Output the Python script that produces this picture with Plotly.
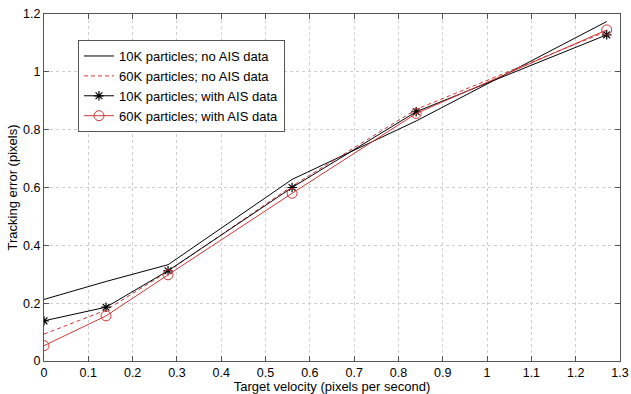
import plotly.graph_objects as go

velocity = [0, 0.14, 0.28, 0.56, 0.84, 1.27]
err_10k_noais = [0.213, 0.275, 0.333, 0.628, 0.830, 1.174]
err_60k_noais = [0.093, 0.176, 0.310, 0.605, 0.870, 1.140]
err_10k_ais = [0.139, 0.186, 0.312, 0.600, 0.862, 1.128]
err_60k_ais = [0.053, 0.156, 0.298, 0.580, 0.856, 1.145]

names = ["10K particles; no AIS data", "60K particles; no AIS data",
         "10K particles; with AIS data", "60K particles; with AIS data"]

x_ticks = [0, 0.1, 0.2, 0.3, 0.4, 0.5, 0.6, 0.7, 0.8, 0.9, 1, 1.1, 1.2, 1.3]
x_labels = ["0", "0.1", "0.2", "0.3", "0.4", "0.5", "0.6", "0.7", "0.8", "0.9", "1", "1.1", "1.2", "1.3"]
y_ticks = [0, 0.2, 0.4, 0.6, 0.8, 1, 1.2]
y_labels = ["0", "0.2", "0.4", "0.6", "0.8", "1", "1.2"]

RED = "#d03838"

fig = go.Figure()
fig.add_trace(go.Scatter(x=velocity, y=err_10k_noais, mode="lines", name=names[0],
                         line=dict(color="black", width=1)))
fig.add_trace(go.Scatter(x=velocity, y=err_60k_noais, mode="lines", name=names[1],
                         line=dict(color=RED, width=1, dash="4px,3px")))
fig.add_trace(go.Scatter(x=velocity, y=err_10k_ais, mode="lines+markers", name=names[2],
                         line=dict(color="black", width=1),
                         marker=dict(symbol="asterisk-open", size=8, color="black",
                                     line=dict(color="black", width=1.2))))
fig.add_trace(go.Scatter(x=velocity, y=err_60k_ais, mode="lines+markers", name=names[3],
                         line=dict(color=RED, width=1),
                         marker=dict(symbol="circle-open", size=10, color=RED,
                                     line=dict(color=RED, width=1))))

axis_common = dict(showline=True, linecolor="#555", linewidth=1, mirror="ticks",
                   ticks="inside", ticklen=5, tickcolor="#555",
                   showgrid=True, gridcolor="#cfcfcf", griddash="dot", gridwidth=1,
                   zeroline=False, ticklabeloverflow="allow", automargin=False,
                   tickfont=dict(family="Liberation Sans, Arial", size=12.5, color="black"))

fig.update_layout(
    width=631, height=394,
    margin=dict(l=44, r=11, t=14, b=33),
    paper_bgcolor="white", plot_bgcolor="white",
    font=dict(family="Liberation Sans, Arial", size=13, color="black"),
    xaxis=dict(range=[0, 1.3], tickvals=x_ticks, ticktext=x_labels,
               title=dict(text="Target velocity (pixels per second)", standoff=2,
                          font=dict(size=13)),
               **axis_common),
    yaxis=dict(range=[0, 1.2], tickvals=y_ticks, ticktext=y_labels,
               title=dict(text="Tracking error (pixels)", standoff=2, font=dict(size=13)),
               **axis_common),
    legend=dict(x=0.059, y=0.925, xanchor="left", yanchor="top",
                bgcolor="white", bordercolor="#555", borderwidth=1,
                font=dict(size=13), itemwidth=30, tracegroupgap=0),
    showlegend=True,
)

fig.write_html("out.html", config={"responsive": False, "displayModeBar": False},
               post_script="document.body.style.margin='0';document.body.style.overflow='hidden';")
